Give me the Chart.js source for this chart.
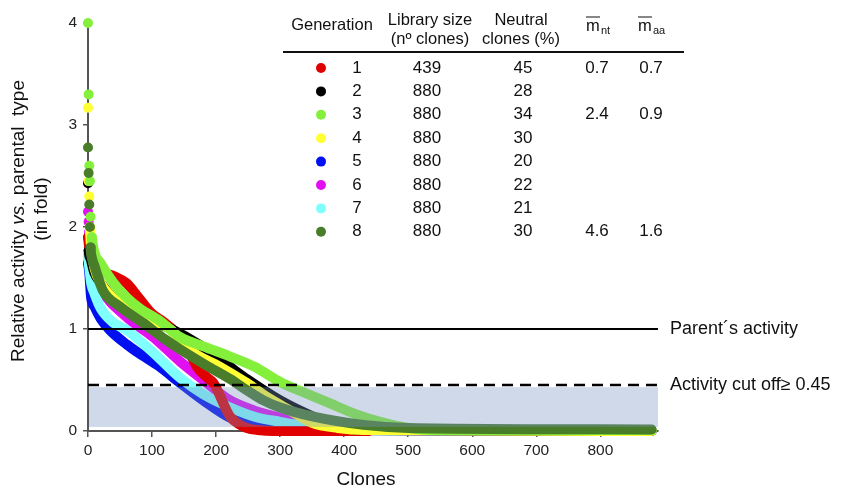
<!DOCTYPE html>
<html>
<head>
<meta charset="utf-8">
<script src="https://cdn.jsdelivr.net/npm/chart.js@4"></script>
<style>
  html, body { margin: 0; background: #fff; }
</style>
</head>
<body>
<canvas id="chart" width="847" height="489"></canvas>
<script>
// clone index (x) and relative activity (y) for each generation
const gen1X = [0, 3, 8, 20, 40, 60, 80, 100, 120, 135, 150, 170, 185, 196, 205, 215, 222, 235, 248, 265, 290, 439];
const gen1Y = [1.9, 1.75, 1.65, 1.57, 1.52, 1.45, 1.3, 1.15, 1.06, 0.98, 0.88, 0.63, 0.53, 0.47, 0.36, 0.22, 0.14, 0.07, 0.03, 0.01, 0, 0];
const gen2X = [0, 1, 3, 10, 20, 40, 70, 100, 130, 170, 215, 250, 300, 352, 390, 430, 880];
const gen2Y = [2.43, 1.77, 1.7, 1.55, 1.45, 1.3, 1.18, 1.08, 1.0, 0.86, 0.66, 0.5, 0.3, 0.14, 0.05, 0.01, 0];
const gen3X = [0, 1, 2, 3, 4, 6, 10, 19, 40, 60, 81, 112, 144, 180, 222, 260, 300, 340, 378, 420, 456, 500, 540, 880];
const gen3Y = [4.0, 3.3, 2.6, 2.45, 2.1, 1.9, 1.75, 1.65, 1.45, 1.31, 1.2, 1.08, 0.92, 0.83, 0.73, 0.63, 0.48, 0.37, 0.27, 0.16, 0.09, 0.03, 0.01, 0.01];
const gen4X = [0, 1, 2, 3, 5, 10, 20, 40, 70, 100, 128, 157, 206, 248, 280, 316, 350, 390, 430, 880];
const gen4Y = [3.17, 2.45, 2.3, 2.0, 1.8, 1.6, 1.45, 1.3, 1.17, 1.08, 1.0, 0.8, 0.63, 0.47, 0.33, 0.2, 0.08, 0.03, 0.01, 0];
const gen5X = [0, 2, 5, 10, 20, 34, 60, 80, 112, 144, 180, 222, 260, 300, 350, 880];
const gen5Y = [1.65, 1.55, 1.3, 1.22, 1.1, 0.99, 0.85, 0.76, 0.63, 0.47, 0.3, 0.13, 0.06, 0.03, 0.01, 0];
const gen6X = [0, 1, 2, 4, 8, 20, 60, 102, 144, 180, 222, 260, 300, 373, 880];
const gen6Y = [2.15, 2.05, 1.95, 1.8, 1.6, 1.4, 1.12, 0.92, 0.68, 0.5, 0.3, 0.2, 0.13, 0.02, 0];
const gen7X = [0, 3, 5, 10, 20, 40, 60, 100, 144, 180, 222, 260, 300, 350, 400, 880];
const gen7Y = [1.72, 1.55, 1.45, 1.35, 1.2, 1.06, 0.99, 0.78, 0.52, 0.36, 0.23, 0.14, 0.09, 0.04, 0.01, 0];
const gen8X = [0, 1, 2, 3, 4, 6, 10, 23, 50, 86, 120, 144, 183, 222, 248, 274, 300, 352, 430, 500, 880];
const gen8Y = [2.78, 2.53, 2.22, 2.0, 1.8, 1.7, 1.62, 1.38, 1.22, 1.06, 0.9, 0.8, 0.65, 0.51, 0.4, 0.3, 0.23, 0.14, 0.06, 0.03, 0.015];

// table on the chart
const generations = ['1', '2', '3', '4', '5', '6', '7', '8'];
const librarySize = ['439', '880', '880', '880', '880', '880', '880', '880'];
const neutralPct = ['45', '28', '34', '30', '20', '22', '21', '30'];
const mNt = ['0.7', '', '2.4', '', '', '', '', '4.6'];
const mAa = ['0.7', '', '0.9', '', '', '', '', '1.6'];
const colors = ['#e00000', '#000000', '#84f03c', '#ffff33', '#0010f0', '#e010f0', '#80ffff', '#4a7d2a'];

const parentLevel = 1;
const cutOff = 0.45;
const xTicks = [0, 100, 200, 300, 400, 500, 600, 700, 800];

const FONT = 'Liberation Sans, Arial, sans-serif';

// how many leading points are drawn as separate dots
const dotCounts = [1, 2, 6, 4, 1, 3, 1, 5];
// drawing order: 0 is on top
const drawOrder = [4, 3, 1, 2, 7, 6, 5, 0];

function curve(i, xs, ys) {
  const dots = dotCounts[i];
  return {
    label: 'Generation ' + generations[i],
    data: xs.map((x, k) => ({ x: x, y: ys[k] })),
    borderColor: colors[i],
    backgroundColor: colors[i],
    borderWidth: 10,
    borderCapStyle: 'round',
    borderJoinStyle: 'round',
    cubicInterpolationMode: 'monotone',
    pointRadius: ctx => ctx.dataIndex < dots ? 5 : 0,
    pointBorderWidth: 0,
    segment: {
      borderColor: ctx => ctx.p1DataIndex < dots ? 'transparent' : undefined
    },
    order: drawOrder[i],
    clip: false
  };
}

const overlay = {
  id: 'overlay',
  afterDatasetsDraw(chart) {
    const { ctx, chartArea: a, scales: { x, y } } = chart;
    ctx.save();
    // shaded region below the cut off
    const top = y.getPixelForValue(0.43);
    const bot = y.getPixelForValue(0.04);
    ctx.fillStyle = 'rgba(120,145,195,0.35)';
    ctx.fillRect(a.left + 1, top, a.right - a.left - 1, bot - top);

    // parent activity
    ctx.strokeStyle = '#000';
    ctx.lineWidth = 2;
    let py = y.getPixelForValue(parentLevel);
    ctx.beginPath(); ctx.moveTo(a.left, py); ctx.lineTo(a.right, py); ctx.stroke();

    // cut off
    let cy = y.getPixelForValue(cutOff);
    ctx.lineWidth = 2.5;
    ctx.setLineDash([11, 7]);
    ctx.beginPath(); ctx.moveTo(a.left, cy); ctx.lineTo(a.right, cy); ctx.stroke();
    ctx.setLineDash([]);

    ctx.fillStyle = '#111';
    ctx.font = '18px ' + FONT;
    ctx.textBaseline = 'middle';
    ctx.textAlign = 'left';
    ctx.fillText('Parent\u00b4s activity', a.right + 12, py);
    ctx.fillText('Activity cut off\u2265 0.45', a.right + 12, cy);
    ctx.restore();
  },
  afterDraw(chart) {
    const ctx = chart.ctx;
    ctx.save();
    ctx.fillStyle = '#111';
    ctx.textBaseline = 'middle';
    ctx.textAlign = 'center';

    // header
    ctx.font = '16.5px ' + FONT;
    ctx.fillText('Generation', 332, 25);
    ctx.fillText('Library size', 430, 20);
    ctx.fillText('(n\u00ba clones)', 430, 39);
    ctx.fillText('Neutral', 521, 20);
    ctx.fillText('clones (%)', 521, 39);
    ctx.textAlign = 'left';
    ctx.fillText('m', 586, 26);
    ctx.fillText('m', 638, 26);
    ctx.font = '11px ' + FONT;
    ctx.fillText('nt', 601, 31);
    ctx.fillText('aa', 653, 31);
    ctx.strokeStyle = '#111';
    ctx.lineWidth = 1.2;
    ctx.beginPath();
    ctx.moveTo(586, 17); ctx.lineTo(600, 17);
    ctx.moveTo(638, 17); ctx.lineTo(652, 17);
    ctx.stroke();
    ctx.lineWidth = 2;
    ctx.beginPath(); ctx.moveTo(283, 52); ctx.lineTo(684, 52); ctx.stroke();

    // rows
    ctx.textAlign = 'center';
    ctx.font = '17px ' + FONT;
    generations.forEach((g, i) => {
      const ry = 68 + i * 23.4;
      ctx.fillStyle = colors[i];
      ctx.beginPath(); ctx.arc(321, ry, 5, 0, Math.PI * 2); ctx.fill();
      ctx.fillStyle = '#111';
      ctx.fillText(g, 357, ry);
      ctx.fillText(librarySize[i], 427, ry);
      ctx.fillText(neutralPct[i], 523, ry);
      ctx.fillText(mNt[i], 597, ry);
      ctx.fillText(mAa[i], 651, ry);
    });

    // axis titles
    ctx.font = '19px ' + FONT;
    ctx.fillText('Clones', 366, 480);

    ctx.translate(19, 221);
    ctx.rotate(-Math.PI / 2);
    const parts = [['Relative activity ', false], ['vs.', true], [' parental  type', false]];
    let total = 0;
    parts.forEach(p => {
      ctx.font = (p[1] ? 'italic ' : '') + '19px ' + FONT;
      total += ctx.measureText(p[0]).width;
    });
    let px = -total / 2;
    ctx.textAlign = 'left';
    parts.forEach(p => {
      ctx.font = (p[1] ? 'italic ' : '') + '19px ' + FONT;
      ctx.fillText(p[0], px, 0);
      px += ctx.measureText(p[0]).width;
    });
    ctx.textAlign = 'center';
    ctx.font = '19px ' + FONT;
    ctx.fillText('(in fold)', 12, 23);
    ctx.restore();
  }
};

new Chart(document.getElementById('chart'), {
  type: 'line',
  data: {
    datasets: [
      curve(0, gen1X, gen1Y),
      curve(1, gen2X, gen2Y),
      curve(2, gen3X, gen3Y),
      curve(3, gen4X, gen4Y),
      curve(4, gen5X, gen5Y),
      curve(5, gen6X, gen6Y),
      curve(6, gen7X, gen7Y),
      curve(7, gen8X, gen8Y)
    ]
  },
  options: {
    responsive: false,
    animation: false,
    events: [],
    layout: { padding: { top: 23, right: 189, left: 0, bottom: 0 } },
    plugins: { legend: { display: false }, tooltip: { enabled: false } },
    scales: {
      x: {
        type: 'linear',
        min: 0,
        max: 890,
        afterFit: s => { s.height = 58; },
        afterBuildTicks: s => { s.ticks = xTicks.map(v => ({ value: v })); },
        ticks: { color: '#222', font: { family: FONT, size: 15.5 }, padding: 4, maxRotation: 0 },
        grid: { drawOnChartArea: false, tickLength: 6, color: '#555', lineWidth: 1.5 },
        border: { color: '#555', width: 2 }
      },
      y: {
        min: 0,
        max: 4,
        afterFit: s => { s.width = 88; },
        ticks: { stepSize: 1, color: '#222', font: { family: FONT, size: 15.5 }, padding: 6 },
        grid: { drawOnChartArea: false, tickLength: 5, color: '#555', lineWidth: 1.5 },
        border: { color: '#555', width: 2 }
      }
    }
  },
  plugins: [overlay]
});
</script>
</body>
</html>
